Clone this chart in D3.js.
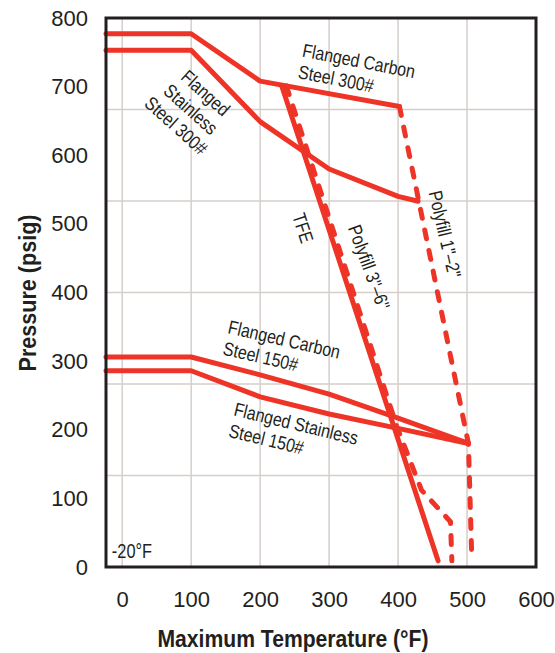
<!DOCTYPE html>
<html>
<head>
<meta charset="utf-8">
<script src="https://cdn.jsdelivr.net/npm/d3@7"></script>
<style>
  body { margin: 0; background: #fff; }
  text { font-family: "Liberation Sans", Arial, sans-serif; fill: #231f20; }
</style>
</head>
<body>
<svg id="chart" width="555" height="653"></svg>
<script>
// Tick labels
const tempTicks = [0, 100, 200, 300, 400, 500, 600];
const pressureTicks = [0, 100, 200, 300, 400, 500, 600, 700, 800];

// Rating curves, [temperature °F, pressure psig]
const carbon300 = [[-23.5, 777], [100, 777], [200, 708], [402, 671]];
const stainless300 = [[-23.5, 753], [100, 753], [200, 649], [300, 580], [400, 540], [429, 533]];
const carbon150 = [[-23.5, 306], [100, 306], [200, 280], [300, 252], [400, 217], [502, 180]];
const stainless150 = [[-23.5, 286], [100, 286], [200, 248], [300, 223], [400, 202], [502, 180]];
const tfe = [[231, 702], [458, 9]];
const polyfill36 = [[238, 701], [398, 205], [434, 112], [476, 66], [478, 9]];
const polyfill12 = [[402, 671], [502, 180], [507, 9]];

const svg = d3.select("#chart");
const plotLeft = 106, plotRight = 536, plotTop = 18, plotBottom = 567;
const red = "#ee3427";
const squeeze = 0.84; // condensed look for the curve labels

const x = d3.scaleLinear().domain([-23.5, 600]).range([plotLeft, plotRight]);
const y = d3.scaleLinear().domain([0, 800]).range([plotBottom, plotTop]);

// grid: vertical every 100 °F, horizontal in six equal bands
const grid = svg.append("g").attr("stroke", "#d6cec9").attr("stroke-width", 1.5);
grid.selectAll(".v").data(tempTicks.slice(0, -1)).enter().append("line")
    .attr("x1", d => x(d)).attr("x2", d => x(d))
    .attr("y1", plotTop).attr("y2", plotBottom);
grid.selectAll(".h").data(d3.range(1, 6).map(i => i * 800 / 6)).enter().append("line")
    .attr("x1", plotLeft).attr("x2", plotRight)
    .attr("y1", d => y(d)).attr("y2", d => y(d));

// axes (labels only)
const yAxis = svg.append("g")
    .attr("transform", `translate(${plotLeft},0)`)
    .call(d3.axisLeft(y).tickValues(pressureTicks).tickSize(0).tickPadding(18));
const xAxis = svg.append("g")
    .attr("transform", `translate(0,${plotBottom})`)
    .call(d3.axisBottom(x).tickValues(tempTicks).tickSize(0).tickPadding(24));
[xAxis, yAxis].forEach(a => {
    a.select(".domain").remove();
    a.selectAll("text")
        .style("font-family", "'Liberation Sans', Arial, sans-serif")
        .style("font-size", "22px")
        .attr("fill", "#231f20");
});

// curves
const line = d3.line().x(d => x(d[0])).y(d => y(d[1]));
const solid = [carbon300, stainless300, carbon150, stainless150, tfe];
svg.selectAll(".solid").data(solid).enter().append("path")
    .attr("d", line)
    .attr("fill", "none")
    .attr("stroke", red)
    .attr("stroke-width", 5)
    .attr("stroke-linejoin", "round")
    .attr("stroke-linecap", "round");
svg.selectAll(".dashed").data([polyfill36, polyfill12]).enter().append("path")
    .attr("d", line)
    .attr("fill", "none")
    .attr("stroke", red)
    .attr("stroke-width", 5)
    .attr("stroke-dasharray", "9,12")
    .attr("stroke-linecap", "round");

// frame
svg.append("rect")
    .attr("x", plotLeft).attr("y", plotTop)
    .attr("width", plotRight - plotLeft).attr("height", plotBottom - plotTop)
    .attr("fill", "none")
    .attr("stroke", "#231f20")
    .attr("stroke-width", 3);

// curve labels, placed in data coordinates
const notes = [
    { t: 260, p: 744, rot: 11, anchor: "start", lines: ["Flanged Carbon", "Steel 300#"] },
    { t: 99.5, p: 667, rot: 42, anchor: "middle", mid: true, lines: ["Flanged", "Stainless", "Steel 300#"] },
    { t: 262, p: 494, rot: 72, anchor: "middle", mid: true, lines: ["TFE"] },
    { t: 358, p: 437, rot: 70, anchor: "middle", mid: true, lines: ["Polyfill 3\u02BA\u20136\u02BA"] },
    { t: 468, p: 485, rot: 77, anchor: "middle", mid: true, lines: ["Polyfill 1\u02BA\u20132\u02BA"] },
    { t: 152, p: 341, rot: 13, anchor: "start", lines: ["Flanged Carbon", "Steel 150#"] },
    { t: 160.5, p: 221, rot: 13.5, anchor: "start", lines: ["Flanged Stainless", "Steel 150#"] }
];
notes.forEach(n => {
    const txt = svg.append("text")
        .attr("transform", `translate(${x(n.t)},${y(n.p)}) rotate(${n.rot}) scale(${squeeze},1)`)
        .attr("text-anchor", n.anchor)
        .style("font-size", "19px");
    const off = n.mid ? -(n.lines.length - 1) / 2 * 22 : 0;
    n.lines.forEach((s, i) => {
        txt.append("tspan")
            .attr("x", 0)
            .attr("y", off + i * 22)
            .attr("dy", n.mid ? "0.35em" : 0)
            .text(s);
    });
});

svg.append("text")
    .attr("transform", `translate(${x(-15)},${y(13)}) scale(${squeeze},1)`)
    .style("font-size", "19.5px")
    .text("-20°F");

// axis titles
svg.append("text")
    .attr("x", 293).attr("y", 647)
    .attr("text-anchor", "middle")
    .attr("textLength", 271).attr("lengthAdjust", "spacingAndGlyphs")
    .style("font-size", "23px").style("font-weight", "bold")
    .text("Maximum Temperature (°F)");
svg.append("text")
    .attr("transform", "translate(36,293) rotate(-90)")
    .attr("text-anchor", "middle")
    .attr("textLength", 157).attr("lengthAdjust", "spacingAndGlyphs")
    .style("font-size", "23px").style("font-weight", "bold")
    .text("Pressure (psig)");
</script>
</body>
</html>
